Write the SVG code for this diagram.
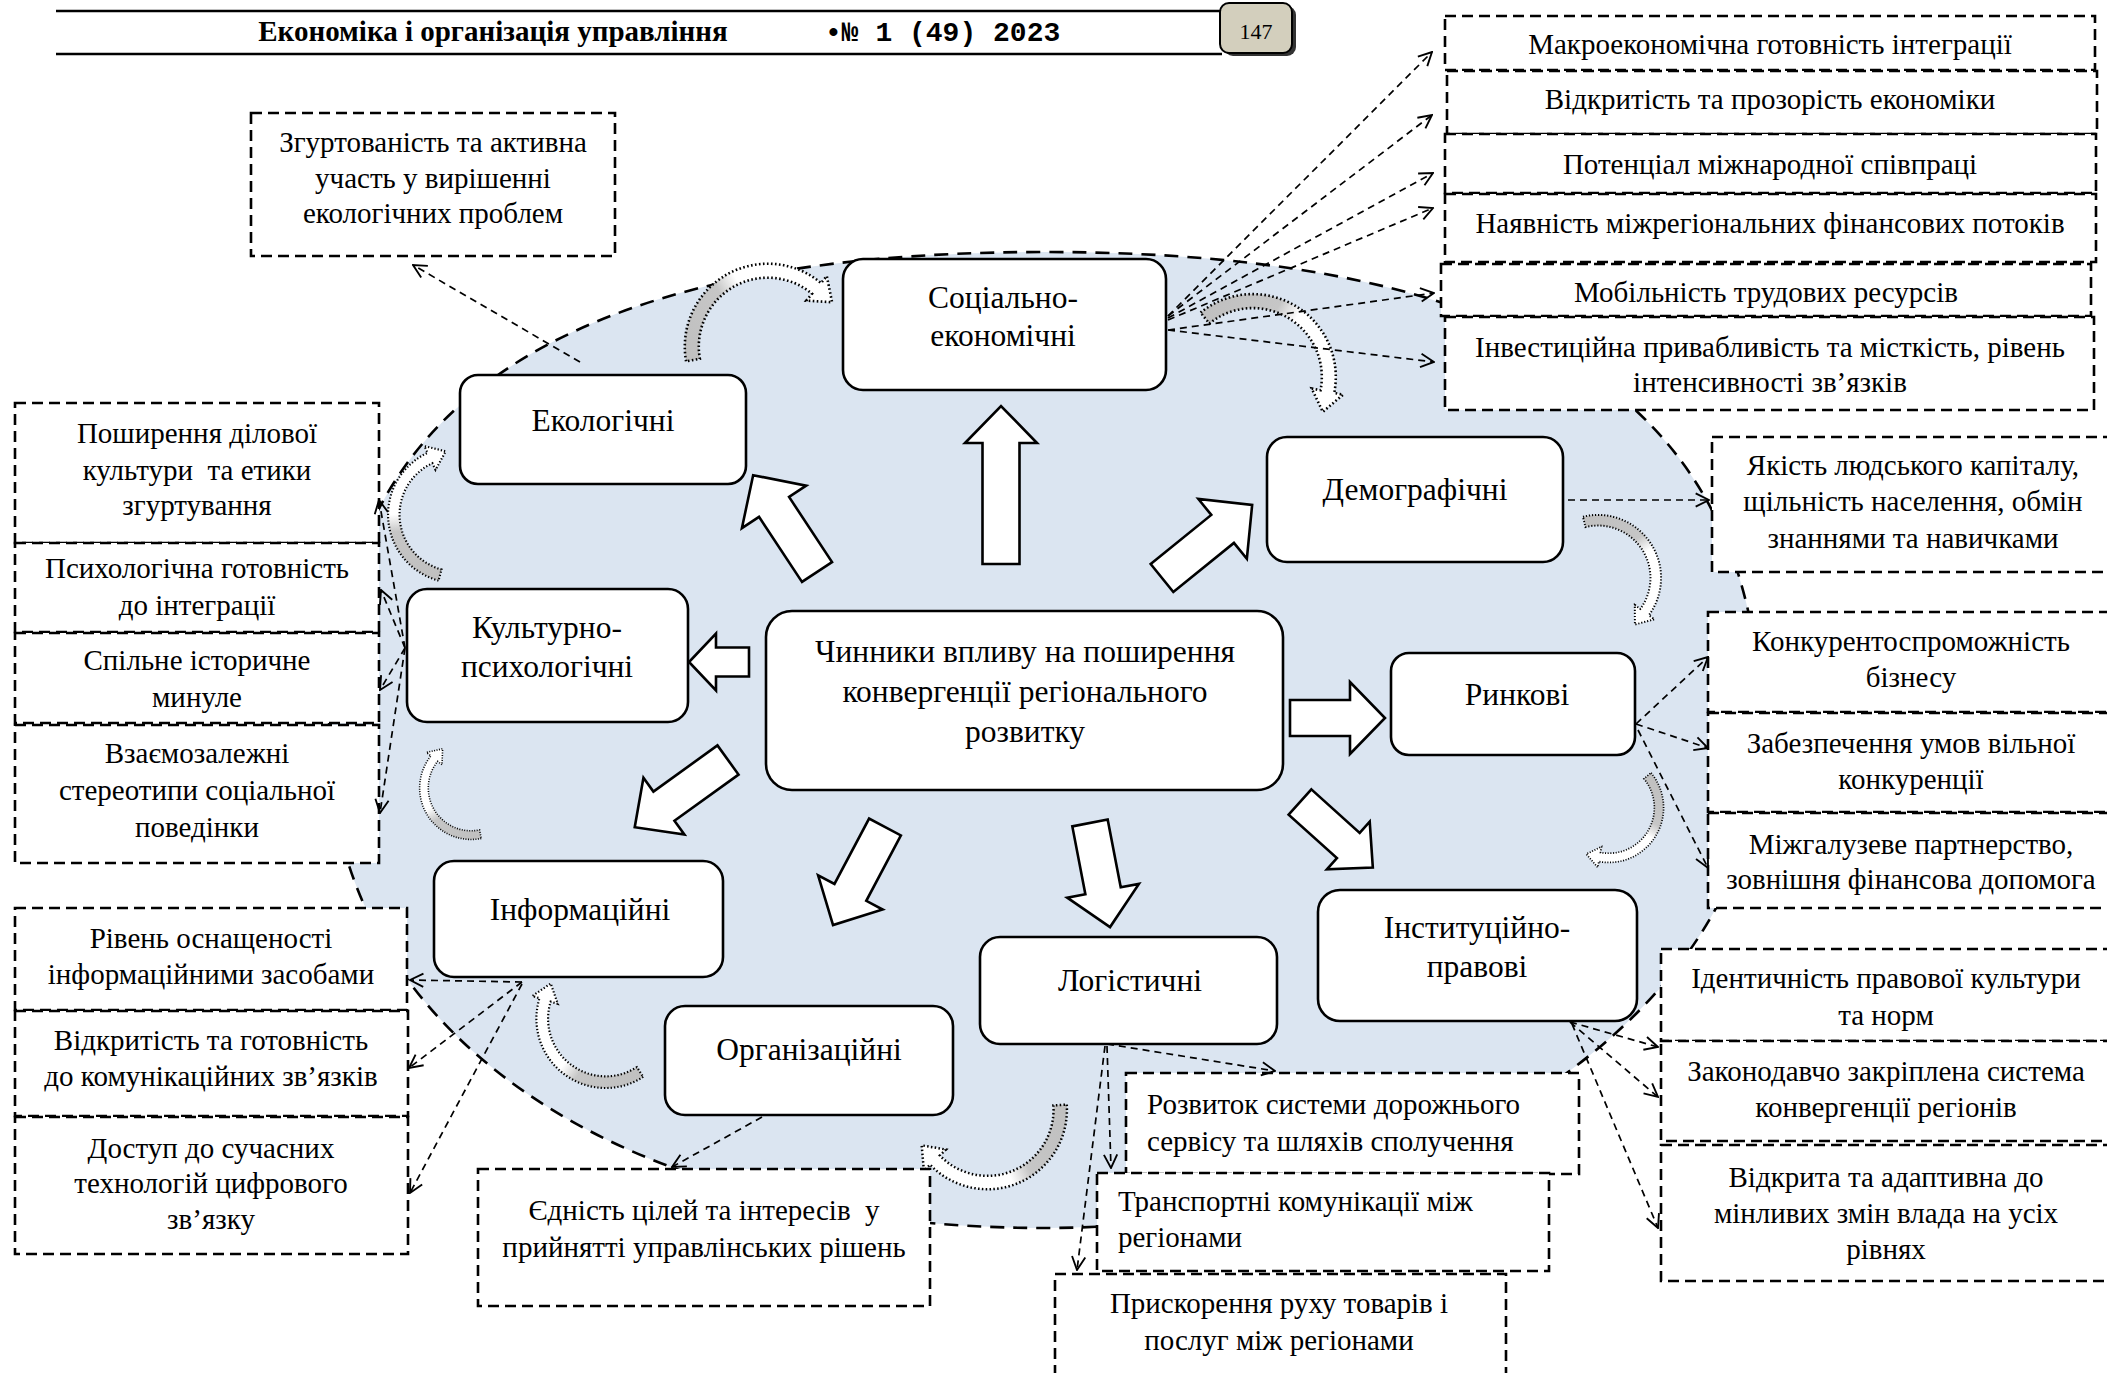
<svg xmlns="http://www.w3.org/2000/svg" width="2107" height="1373" viewBox="0 0 2107 1373">
<defs>
<style>
.node{fill:#fff;stroke:#000;stroke-width:2.6}
.box{fill:#fff;stroke:#000;stroke-width:2.6;stroke-dasharray:11,6}
.nt{font-family:"Liberation Serif",serif;font-size:31.5px;text-anchor:middle;fill:#000}
.bt{font-family:"Liberation Serif",serif;font-size:29px;text-anchor:middle;fill:#000}
.btl{font-family:"Liberation Serif",serif;font-size:29px;text-anchor:start;fill:#000}
.conn{fill:none;stroke:#000;stroke-width:1.7;stroke-dasharray:7,5;marker-end:url(#ah)}
.blk{fill:#fff;stroke:#000;stroke-width:2.6;stroke-linejoin:miter}
.curl{fill:url(#cg);stroke:#000;stroke-width:2.6;stroke-dasharray:1.6,2.4;vector-effect:non-scaling-stroke}
</style>
<marker id="ah" viewBox="0 0 12 12" refX="11" refY="6" markerWidth="16" markerHeight="16" markerUnits="userSpaceOnUse" orient="auto">
<path d="M1,1 L11,6 L1,11" fill="none" stroke="#000" stroke-width="1.4"/>
</marker>
<linearGradient id="cg" gradientUnits="userSpaceOnUse" x1="-76" y1="0" x2="58" y2="-49">
<stop offset="0" stop-color="#c0c0c0"/>
<stop offset="0.4" stop-color="#c6c6c6"/>
<stop offset="0.55" stop-color="#fff"/>
<stop offset="1" stop-color="#fff"/>
</linearGradient>
<path id="curv" d="M-83,0 A83,83 0 0,1 63.58,-53.35 L70.47,-59.13 L71.08,-32.53 L46.0,-38.6 L52.86,-44.36 A69,69 0 0,0 -69,0 Z"/>
</defs>
<rect width="2107" height="1373" fill="#fff"/>

<g id="header">
<line x1="56" y1="11" x2="1222" y2="11" stroke="#000" stroke-width="2.6"/>
<line x1="56" y1="54" x2="1222" y2="54" stroke="#000" stroke-width="2.6"/>
<text x="493" y="41" font-family="Liberation Serif" font-weight="bold" font-size="29" text-anchor="middle">Економіка і організація управління</text>
<text x="825" y="41" font-family="Liberation Mono" font-weight="bold" font-size="28">•№ 1 (49) 2023</text>
<rect x="1224" y="6" width="72" height="50" rx="9" fill="#333"/>
<rect x="1220" y="3" width="72" height="50" rx="9" fill="#d3cfbd" stroke="#000" stroke-width="2"/>
<text x="1256" y="39" font-family="Liberation Serif" font-size="22" text-anchor="middle">147</text>
</g>

<g id="region">
<path d="M329,736 C329,407 558,252 1045,252 C1532,252 1761,407 1761,736 C1761,1008 1440,1228 1045,1228 C615,1228 329,1031 329,736 Z" fill="#dbe5f1" stroke="#000" stroke-width="2.6" stroke-dasharray="14,9"/>
</g>

<g id="cycle-arrows">
<use href="#curv" class="curl" transform="translate(767.8,346.7) rotate(-10.1)"/>
<use href="#curv" class="curl" transform="translate(1252.8,377.1) rotate(51)"/>
<use href="#curv" class="curl" transform="translate(1598,578) rotate(76.2) scale(0.76)"/>
<use href="#curv" class="curl" transform="translate(1608.8,807.7) rotate(140.5) scale(0.66)"/>
<use href="#curv" class="curl" transform="translate(987.5,1109.8) rotate(176.25) scale(0.957)"/>
<use href="#curv" class="curl" transform="translate(605.7,1018.7) rotate(-122.8) scale(0.835)"/>
<use href="#curv" class="curl" transform="translate(471.1,788) rotate(-101.4) scale(0.62)"/>
<use href="#curv" class="curl" transform="translate(456.3,514.7) rotate(-74.9) scale(0.822)"/>
</g>

<g id="boxes">
<g id="b-zgurt"><rect class="box" x="251" y="113" width="364" height="143"/>
<text class="bt" x="433" y="152">Згуртованість та активна</text>
<text class="bt" x="433" y="188">участь у вирішенні</text>
<text class="bt" x="433" y="223">екологічних проблем</text></g>

<g id="b-makro"><rect class="box" x="1445" y="16" width="650" height="54"/>
<text class="bt" x="1770" y="54">Макроекономічна готовність інтеграції</text></g>
<g id="b-vidkr"><rect class="box" x="1447" y="71" width="650" height="63"/>
<text class="bt" x="1770" y="109">Відкритість та прозорість економіки</text></g>
<g id="b-poten"><rect class="box" x="1445" y="134" width="651" height="59"/>
<text class="bt" x="1770" y="174">Потенціал міжнародної співпраці</text></g>
<g id="b-nayav"><rect class="box" x="1445" y="194" width="651" height="68"/>
<text class="bt" x="1770" y="233">Наявність міжрегіональних фінансових потоків</text></g>
<g id="b-mobil"><rect class="box" x="1441" y="264" width="650" height="52"/>
<text class="bt" x="1766" y="302">Мобільність трудових ресурсів</text></g>
<g id="b-invest"><rect class="box" x="1445" y="317" width="649" height="93"/>
<text class="bt" x="1770" y="357">Інвестиційна привабливість та місткість, рівень</text>
<text class="bt" x="1770" y="392">інтенсивності зв’язків</text></g>

<g id="b-poshyr"><rect class="box" x="15" y="403" width="364" height="140"/>
<text class="bt" x="197" y="443">Поширення ділової</text>
<text class="bt" x="197" y="480" xml:space="preserve">культури  та етики</text>
<text class="bt" x="197" y="515">згуртування</text></g>
<g id="b-psyh"><rect class="box" x="15" y="543" width="364" height="89"/>
<text class="bt" x="197" y="578">Психологічна готовність</text>
<text class="bt" x="197" y="615">до інтеграції</text></g>
<g id="b-spil"><rect class="box" x="15" y="633" width="364" height="90"/>
<text class="bt" x="197" y="670">Спільне історичне</text>
<text class="bt" x="197" y="707">минуле</text></g>
<g id="b-vzaem"><rect class="box" x="15" y="725" width="364" height="138"/>
<text class="bt" x="197" y="763">Взаємозалежні</text>
<text class="bt" x="197" y="800">стереотипи соціальної</text>
<text class="bt" x="197" y="837">поведінки</text></g>

<g id="b-yakist"><rect class="box" x="1712" y="437" width="400" height="135"/>
<text class="bt" x="1913" y="475">Якість людського капіталу,</text>
<text class="bt" x="1913" y="511">щільність населення, обмін</text>
<text class="bt" x="1913" y="548">знаннями та навичками</text></g>
<g id="b-konk"><rect class="box" x="1708" y="612" width="404" height="100"/>
<text class="bt" x="1911" y="651">Конкурентоспроможність</text>
<text class="bt" x="1911" y="687">бізнесу</text></g>
<g id="b-zabez"><rect class="box" x="1708" y="713" width="404" height="99"/>
<text class="bt" x="1911" y="753">Забезпечення умов вільної</text>
<text class="bt" x="1911" y="789">конкуренції</text></g>
<g id="b-mizhg"><rect class="box" x="1708" y="813" width="404" height="95"/>
<text class="bt" x="1911" y="854">Міжгалузеве партнерство,</text>
<text class="bt" x="1911" y="889">зовнішня фінансова допомога</text></g>

<g id="b-ident"><rect class="box" x="1661" y="949" width="451" height="92"/>
<text class="bt" x="1886" y="988">Ідентичність правової культури</text>
<text class="bt" x="1886" y="1025">та норм</text></g>
<g id="b-zakon"><rect class="box" x="1661" y="1041" width="451" height="100"/>
<text class="bt" x="1886" y="1081">Законодавчо закріплена система</text>
<text class="bt" x="1886" y="1117">конвергенції регіонів</text></g>
<g id="b-vidkryta"><rect class="box" x="1661" y="1145" width="451" height="136"/>
<text class="bt" x="1886" y="1187">Відкрита та адаптивна до</text>
<text class="bt" x="1886" y="1223">мінливих змін влада на усіх</text>
<text class="bt" x="1886" y="1259">рівнях</text></g>

<g id="b-rozv"><rect class="box" x="1126" y="1073" width="453" height="101"/>
<text class="btl" x="1147" y="1114">Розвиток системи дорожнього</text>
<text class="btl" x="1147" y="1151">сервісу та шляхів сполучення</text></g>
<g id="b-transp"><rect class="box" x="1097" y="1173" width="452" height="98"/>
<text class="btl" x="1118" y="1211">Транспортні комунікації між</text>
<text class="btl" x="1118" y="1247">регіонами</text></g>
<g id="b-prysk"><rect class="box" x="1055" y="1274" width="451" height="110"/>
<text class="bt" x="1279" y="1313">Прискорення руху товарів і</text>
<text class="bt" x="1279" y="1350">послуг між регіонами</text></g>

<g id="b-yednist"><rect class="box" x="478" y="1169" width="452" height="137"/>
<text class="bt" x="704" y="1220" xml:space="preserve">Єдність цілей та інтересів  у</text>
<text class="bt" x="704" y="1257">прийнятті управлінських рішень</text></g>

<g id="b-riven"><rect class="box" x="15" y="908" width="392" height="102"/>
<text class="bt" x="211" y="948">Рівень оснащеності</text>
<text class="bt" x="211" y="984">інформаційними засобами</text></g>
<g id="b-vidkrytist"><rect class="box" x="15" y="1011" width="393" height="105"/>
<text class="bt" x="211" y="1050">Відкритість та готовність</text>
<text class="bt" x="211" y="1086">до комунікаційних зв’язків</text></g>
<g id="b-dostup"><rect class="box" x="15" y="1117" width="393" height="137"/>
<text class="bt" x="211" y="1158">Доступ до сучасних</text>
<text class="bt" x="211" y="1193">технологій цифрового</text>
<text class="bt" x="211" y="1229">зв’язку</text></g>
</g>

<g id="connectors">
<line class="conn" x1="1168" y1="316" x2="1432" y2="52"/>
<line class="conn" x1="1168" y1="316" x2="1432" y2="115"/>
<line class="conn" x1="1168" y1="318" x2="1433" y2="173"/>
<line class="conn" x1="1168" y1="320" x2="1433" y2="208"/>
<line class="conn" x1="1168" y1="330" x2="1434" y2="293"/>
<line class="conn" x1="1168" y1="330" x2="1434" y2="362"/>
<line class="conn" x1="580" y1="362" x2="413" y2="265"/>
<line class="conn" x1="405" y1="648" x2="379" y2="500"/>
<line class="conn" x1="405" y1="648" x2="381" y2="590"/>
<line class="conn" x1="405" y1="648" x2="380" y2="690"/>
<line class="conn" x1="405" y1="648" x2="380" y2="813"/>
<line class="conn" x1="1556" y1="500" x2="1709" y2="500"/>
<line class="conn" x1="1636" y1="724" x2="1708" y2="657"/>
<line class="conn" x1="1636" y1="724" x2="1708" y2="748"/>
<line class="conn" x1="1638" y1="730" x2="1708" y2="868"/>
<line class="conn" x1="522" y1="982" x2="410" y2="980"/>
<line class="conn" x1="522" y1="982" x2="409" y2="1068"/>
<line class="conn" x1="522" y1="984" x2="410" y2="1193"/>
<line class="conn" x1="762" y1="1117" x2="672" y2="1167"/>
<line class="conn" x1="1107" y1="1044" x2="1275" y2="1071"/>
<line class="conn" x1="1107" y1="1046" x2="1111" y2="1168"/>
<line class="conn" x1="1105" y1="1046" x2="1077" y2="1270"/>
<line class="conn" x1="1570" y1="1022" x2="1658" y2="1047"/>
<line class="conn" x1="1570" y1="1022" x2="1658" y2="1097"/>
<line class="conn" x1="1572" y1="1024" x2="1658" y2="1228"/>
</g>

<g id="nodes">
<g id="n-soc"><rect class="node" x="843" y="259" width="323" height="131" rx="20"/>
<text class="nt" x="1003" y="308">Соціально-</text><text class="nt" x="1003" y="346">економічні</text></g>
<g id="n-ekol"><rect class="node" x="460" y="375" width="286" height="109" rx="18"/>
<text class="nt" x="603" y="431">Екологічні</text></g>
<g id="n-dem"><rect class="node" x="1267" y="437" width="296" height="125" rx="20"/>
<text class="nt" x="1415" y="500">Демографічні</text></g>
<g id="n-kult"><rect class="node" x="407" y="589" width="281" height="133" rx="20"/>
<text class="nt" x="547" y="638">Культурно-</text><text class="nt" x="547" y="677">психологічні</text></g>
<g id="n-center"><rect class="node" x="766" y="611" width="517" height="179" rx="26"/>
<text class="nt" x="1025" y="662">Чинники впливу на поширення</text>
<text class="nt" x="1025" y="702">конвергенції регіонального</text>
<text class="nt" x="1025" y="742">розвитку</text></g>
<g id="n-rynk"><rect class="node" x="1391" y="653" width="244" height="102" rx="18"/>
<text class="nt" x="1517" y="705">Ринкові</text></g>
<g id="n-inf"><rect class="node" x="434" y="861" width="289" height="116" rx="20"/>
<text class="nt" x="580" y="920">Інформаційні</text></g>
<g id="n-org"><rect class="node" x="665" y="1006" width="288" height="109" rx="20"/>
<text class="nt" x="809" y="1060">Організаційні</text></g>
<g id="n-log"><rect class="node" x="980" y="937" width="297" height="107" rx="20"/>
<text class="nt" x="1130" y="991">Логістичні</text></g>
<g id="n-inst"><rect class="node" x="1318" y="890" width="319" height="131" rx="22"/>
<text class="nt" x="1477" y="938">Інституційно-</text><text class="nt" x="1477" y="977">правові</text></g>
</g>

<g id="block-arrows">
<path class="blk" d="M0,-18.5 H121 V-36 L158,0 L121,36 V18.5 H0 Z" transform="translate(1001,564) rotate(-90)"/>
<path class="blk" d="M0,-18 H78 V-38.5 L116,0 L78,38.5 V18 H0 Z" transform="translate(817,572) rotate(-123.4)"/>
<path class="blk" d="M0,-14.5 H33 V-28.5 L60,0 L33,28.5 V14.5 H0 Z" transform="translate(749,662) rotate(180)"/>
<path class="blk" d="M0,-18 H78 V-38.5 L116,0 L78,38.5 V18 H0 Z" transform="translate(1162,578) rotate(-39)"/>
<path class="blk" d="M0,-18 H60 V-36 L95,0 L60,36 V18 H0 Z" transform="translate(1290,718)"/>
<path class="blk" d="M0,-17 H65 V-32 L98,0 L65,32 V17 H0 Z" transform="translate(1300,802) rotate(42)"/>
<path class="blk" d="M0,-18 H69 V-36.5 L106,0 L69,36.5 V18 H0 Z" transform="translate(1090,823) rotate(79.1)"/>
<path class="blk" d="M0,-18 H74 V-36.5 L111,0 L74,36.5 V18 H0 Z" transform="translate(885,827) rotate(117.9)"/>
<path class="blk" d="M0,-18 H79 V-35 L115,0 L79,35 V18 H0 Z" transform="translate(728,760) rotate(144.2)"/>
</g>
</svg>
